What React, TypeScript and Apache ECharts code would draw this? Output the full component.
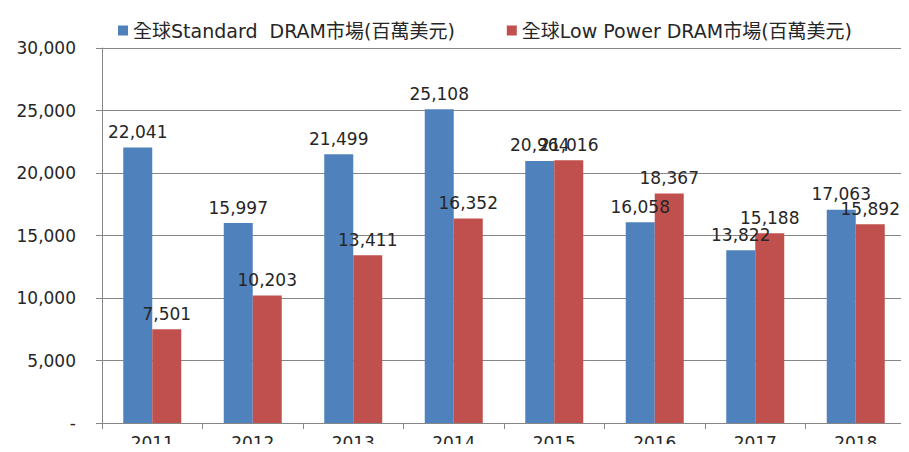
import React, { useEffect, useRef } from "react";
import * as echarts from "echarts";

const categories = ["2011", "2012", "2013", "2014", "2015", "2016", "2017", "2018"];
const standardDram = [22041, 15997, 21499, 25108, 20964, 16058, 13822, 17063];
const lowPowerDram = [7501, 10203, 13411, 16352, 21016, 18367, 15188, 15892];
const seriesNames = ["全球Standard  DRAM市場(百萬美元)", "全球Low Power DRAM市場(百萬美元)"];

const fmt = (v: number) => (v === 0 ? "-" : v.toLocaleString("en-US"));

export default function App() {
  const ref = useRef<HTMLDivElement>(null);
  useEffect(() => {
    const chart = echarts.init(ref.current!, null, { renderer: "svg" });
    const textColor = "#262626";
    const font = "DejaVu Sans, Noto Sans CJK TC, sans-serif";
    const label = {
      show: true,
      position: "top" as const,
      distance: 7,
      color: textColor,
      fontSize: 17,
      fontFamily: font,
      formatter: (p: any) => fmt(p.value),
    };
    chart.setOption({
      animation: false,
      legend: {
        top: 16,
        left: 113,
        itemWidth: 10,
        itemHeight: 10,
        itemGap: 52,
        icon: "rect",
        textStyle: { color: textColor, fontSize: 19, fontFamily: font },
        data: seriesNames,
      },
      grid: { left: 102, right: 3, top: 48, bottom: 29 },
      xAxis: {
        type: "category",
        data: categories,
        axisLine: { lineStyle: { color: "#868686" } },
        axisTick: { show: true, length: 6, lineStyle: { color: "#868686" } },
        axisLabel: { color: textColor, fontSize: 17, fontFamily: font, margin: 11 },
      },
      yAxis: {
        type: "value",
        min: 0,
        max: 30000,
        interval: 5000,
        axisLine: { show: true, lineStyle: { color: "#868686" } },
        axisTick: { show: true, length: 6, lineStyle: { color: "#868686" } },
        splitLine: { lineStyle: { color: "#868686" } },
        axisLabel: {
          color: textColor,
          fontSize: 17,
          fontFamily: font,
          margin: 26,
          formatter: (v: number) => fmt(v),
        },
      },
      series: [
        {
          name: seriesNames[0],
          type: "bar",
          data: standardDram,
          barWidth: 29,
          barGap: "0%",
          itemStyle: { color: "#4F81BD" },
          label,
        },
        {
          name: seriesNames[1],
          type: "bar",
          data: lowPowerDram,
          barWidth: 29,
          barGap: "0%",
          itemStyle: { color: "#C0504D" },
          label,
        },
      ],
    });
    return () => chart.dispose();
  }, []);
  return <div ref={ref} style={{ width: 909, height: 452, margin: -8 }} />;
}
